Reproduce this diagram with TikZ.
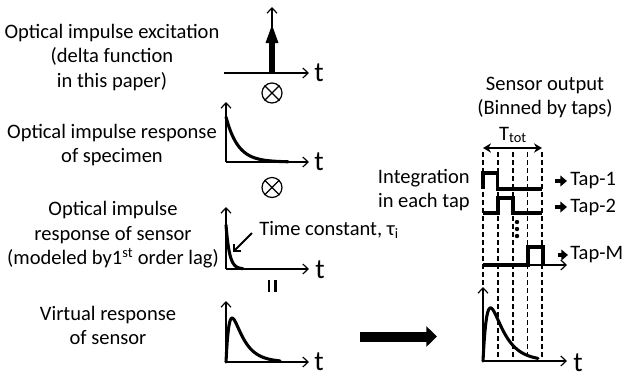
\documentclass[tikz,border=0pt]{standalone}
\usepackage{fontspec}
\setmainfont{Carlito}
\usetikzlibrary{arrows.meta}
\begin{document}
\begin{tikzpicture}[x=0.75pt,y=-0.75pt,
 txt/.style={align=center, font=\fontsize{15.4}{18.4}\selectfont, inner sep=0},
 tlab/.style={font=\fontsize{21}{21}\selectfont, inner sep=0, anchor=base},
 axis/.style={line width=0.9pt, -{Straight Barb[length=4pt,width=7.5pt]}},
 curve/.style={line width=2.3pt, line join=round, line cap=round},
 wave/.style={line width=2.5pt, line join=miter},
 tapdash/.style={line width=0.9pt, dash pattern=on 3.5pt off 2.5pt},
 tapar/.style={line width=2.6pt, -{Triangle[length=5pt,width=8pt]}},
 otimes/.style={circle, draw, line width=0.9pt, minimum size=15pt, inner sep=0},
]
\useasboundingbox (0,0) rectangle (623,376);

% ---- left texts
\node[txt] (exc) at (112,57.5) {Optical impulse excitation\\(delta function\\in this paper)};
\node[txt] (spec) at (112,145) {Optical impulse response\\of specimen};
\node[txt] (sens) at (113,235) {Optical impulse\\response of sensor\\(modeled by1\textsuperscript{st} order lag)};
\node[txt] (virt) at (108,325.5) {Virtual response\\of sensor};

% ---- excitation
\coordinate (e0) at (272,73);
\coordinate (ex) at (309,73);
\coordinate (exl) at (224,73);
\coordinate (ey) at (272,7);
\draw[axis] (exl) -- (ex);
\draw[axis] (e0) -- (ey);
\draw[line width=4pt] (272,73) -- (272,42);
\fill (265.5,43) -- (278.5,43) -- (272,25) -- cycle;
\node[tlab] (t1) at (319,81) {t};

\node[otimes] (ot1) at (272,93) {};
\draw[line width=0.9pt] (ot1.north west) -- (ot1.south east) (ot1.north east) -- (ot1.south west);

% ---- specimen
\coordinate (s0) at (226,162);
\draw[axis] (s0) -- (309,162);
\draw[axis] (s0) -- (226,102);
\draw[curve] plot[domain=0:62, samples=80] ({226+\x},{162-45*exp(-\x/12)});
\node[tlab] (t2) at (319,170) {t};

\node[otimes] (ot2) at (272,187.5) {};
\draw[line width=0.9pt] (ot2.north west) -- (ot2.south east) (ot2.north east) -- (ot2.south west);

% ---- sensor
\coordinate (n0) at (226,269);
\draw[axis] (n0) -- (309,269);
\draw[axis] (n0) -- (226,207);
\draw[curve] plot[domain=0:17, samples=60] ({226+\x},{269-44*exp(-\x/3.5)});
\node[tlab] (t3) at (320,278) {t};
\node[txt, anchor=west] (tc) at (259,230) {Time constant, τ\textsubscript{i}};
\coordinate (tca) at (252,233);
\coordinate (tcb) at (233,252);
\draw[line width=1.4pt, -{Straight Barb[length=4pt,width=8pt]}] (tca) -- (tcb);

% equals sign (rotated)
\draw[line width=2pt] (269,279.5) -- (269,291.5) (275.5,279.5) -- (275.5,291.5);

% ---- virtual
\coordinate (v0) at (226,362);
\draw[axis] (v0) -- (309,362);
\draw[axis] (v0) -- (226,301);
\draw[curve] plot[domain=0:54, samples=90] ({226+\x},{362-103*(exp(-\x/12)-exp(-\x/3.5))});
\node[tlab] (t4) at (319,370) {t};

% ---- big arrow
\coordinate (ba) at (360,336.5);
\coordinate (bb) at (437,336.5);
\draw[line width=7.5pt, -{Triangle[length=8pt,width=15pt]}] (ba) -- (bb);

% ---- right side
\node[txt] (out) at (545,97.5) {Sensor output\\(Binned by taps)};
\node[txt] (ttot) at (513,135) {T\textsubscript{tot}};
\draw[line width=1.2pt, {Stealth[length=6pt,width=7pt]}-{Stealth[length=6pt,width=7pt]}] (483,148) -- (542,148);

\foreach \xx in {483,498,513,527.5,542} \draw[tapdash] (\xx,152) -- (\xx,361);

\node[txt, anchor=east] (integ) at (470,190) {Integration\\in each tap};

\draw[wave] (483,189) -- (483,173) -- (497.5,173) -- (497.5,189) -- (542,189);
\draw[wave] (483,213) -- (498,213) -- (498,198) -- (513,198) -- (513,213) -- (542,213);
\foreach \yy in {222,229,236} \fill (517,\yy) circle (2.2);

\draw[axis] (483,265) -- (567,265);
\draw[wave] (483,265) -- (528,265) -- (528,247) -- (543,247) -- (543,265);

\node[txt, anchor=west] (tap1) at (570,181) {Tap-1};
\node[txt, anchor=west] (tap2) at (570,207) {Tap-2};
\node[txt, anchor=west] (tapM) at (570,255) {Tap-M};
\draw[tapar] (555,181) -- (567,181);
\draw[tapar] (555,207) -- (567,207);
\draw[tapar] (558,255) -- (568,255);

\coordinate (r0) at (483,361);
\draw[axis] (r0) -- (567,361);
\draw[axis] (r0) -- (483,287);
\draw[curve] plot[domain=0:55, samples=90] ({483+\x},{361-134*(exp(-\x/14)-exp(-\x/4.5))});
\node[tlab] (t5) at (578,371) {t};
\end{tikzpicture}
\end{document}
